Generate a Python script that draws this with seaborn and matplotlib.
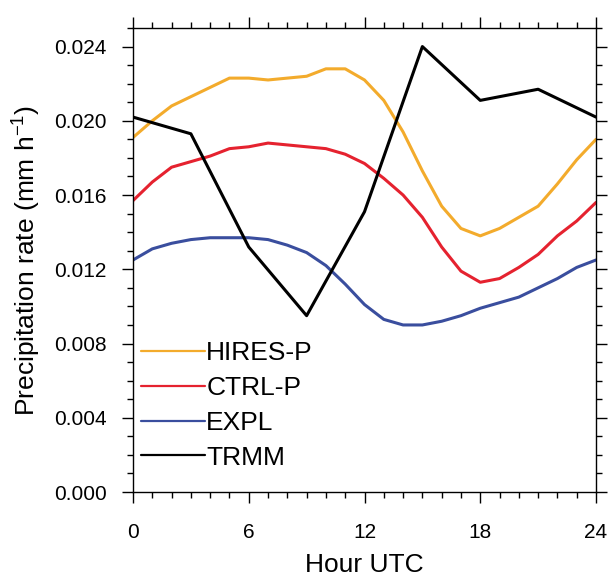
import numpy as np
import pandas as pd
import matplotlib
matplotlib.use("Agg")
import matplotlib.pyplot as plt
from matplotlib.ticker import MultipleLocator, FormatStrFormatter
import seaborn as sns

# ── Data ──────────────────────────────────────────────────────────────────────
hours = list(range(25))
hires_p = [0.0191, 0.0200, 0.0208, 0.0213, 0.0218, 0.0223, 0.0223, 0.0222,
           0.0223, 0.0224, 0.0228, 0.0228, 0.0222, 0.0211, 0.0194, 0.0173,
           0.0154, 0.0142, 0.0138, 0.0142, 0.0148, 0.0154, 0.0166, 0.0179, 0.0190]
ctrl_p = [0.0157, 0.0167, 0.0175, 0.0178, 0.0181, 0.0185, 0.0186, 0.0188,
          0.0187, 0.0186, 0.0185, 0.0182, 0.0177, 0.0169, 0.0160, 0.0148,
          0.0132, 0.0119, 0.0113, 0.0115, 0.0121, 0.0128, 0.0138, 0.0146, 0.0156]
expl = [0.0125, 0.0131, 0.0134, 0.0136, 0.0137, 0.0137, 0.0137, 0.0136,
        0.0133, 0.0129, 0.0122, 0.0112, 0.0101, 0.0093, 0.0090, 0.0090,
        0.0092, 0.0095, 0.0099, 0.0102, 0.0105, 0.0110, 0.0115, 0.0121, 0.0125]
trmm_hours = [0, 3, 6, 9, 12, 15, 18, 21, 24]
trmm = [0.0202, 0.0193, 0.0132, 0.0095, 0.0151, 0.0240, 0.0211, 0.0217, 0.0202]

series_names = ["HIRES-P", "CTRL-P", "EXPL", "TRMM"]
colors = ["#F3AB2C", "#E5222F", "#3A4E9E", "#000000"]

df = pd.concat([
    pd.DataFrame({"hour": hours, "rate": hires_p, "run": "HIRES-P"}),
    pd.DataFrame({"hour": hours, "rate": ctrl_p, "run": "CTRL-P"}),
    pd.DataFrame({"hour": hours, "rate": expl, "run": "EXPL"}),
    pd.DataFrame({"hour": trmm_hours, "rate": trmm, "run": "TRMM"}),
], ignore_index=True)

# ── Style ─────────────────────────────────────────────────────────────────────
sns.set_style("ticks")
plt.rcParams["font.family"] = ["Liberation Sans", "DejaVu Sans"]
plt.rcParams["text.color"] = "black"
plt.rcParams["axes.labelcolor"] = "black"
plt.rcParams["mathtext.fontset"] = "custom"
plt.rcParams["mathtext.rm"] = "Liberation Sans"
plt.rcParams["mathtext.it"] = "Liberation Sans"

fig = plt.figure(figsize=(6.11, 5.76), dpi=100)
ax = fig.add_axes([133 / 611, 1 - 492 / 576, 463 / 611, 464 / 576])

sns.lineplot(data=df, x="hour", y="rate", hue="run", hue_order=series_names,
             palette=dict(zip(series_names, colors)), linewidth=2.2,
             errorbar=None, sort=False, ax=ax)

ax.set_xlim(0, 24)
ax.set_ylim(0, 0.025)
ax.xaxis.set_major_locator(MultipleLocator(6))
ax.xaxis.set_minor_locator(MultipleLocator(1))
ax.yaxis.set_major_locator(MultipleLocator(0.004))
ax.yaxis.set_minor_locator(MultipleLocator(0.001))
ax.yaxis.set_major_formatter(FormatStrFormatter("%.3f"))
ax.tick_params(which="both", direction="out", top=True, right=True,
               width=1.0, colors="black", labelsize=15)
ax.tick_params(axis="x", pad=14)
ax.tick_params(axis="y", pad=11)
ax.tick_params(which="major", length=8)
ax.tick_params(which="minor", length=4)
for sp in ax.spines.values():
    sp.set_linewidth(1.0)
    sp.set_color("black")

ax.set_xlabel("Hour UTC", fontsize=19, labelpad=8)
ax.set_ylabel("Precipitation rate (mm h$^{-1}$)", fontsize=19, labelpad=8)

handles, labels = ax.get_legend_handles_labels()
leg = ax.legend(handles, labels, loc="upper left",
                bbox_to_anchor=(0.0166, 0.325), frameon=False, fontsize=19,
                handlelength=2.43, handletextpad=0.05, labelspacing=0.41,
                borderpad=0, borderaxespad=0)
for ln in leg.get_lines():
    ln.set_linewidth(1.6)

plt.savefig("out.png", dpi=100)
plt.close()
